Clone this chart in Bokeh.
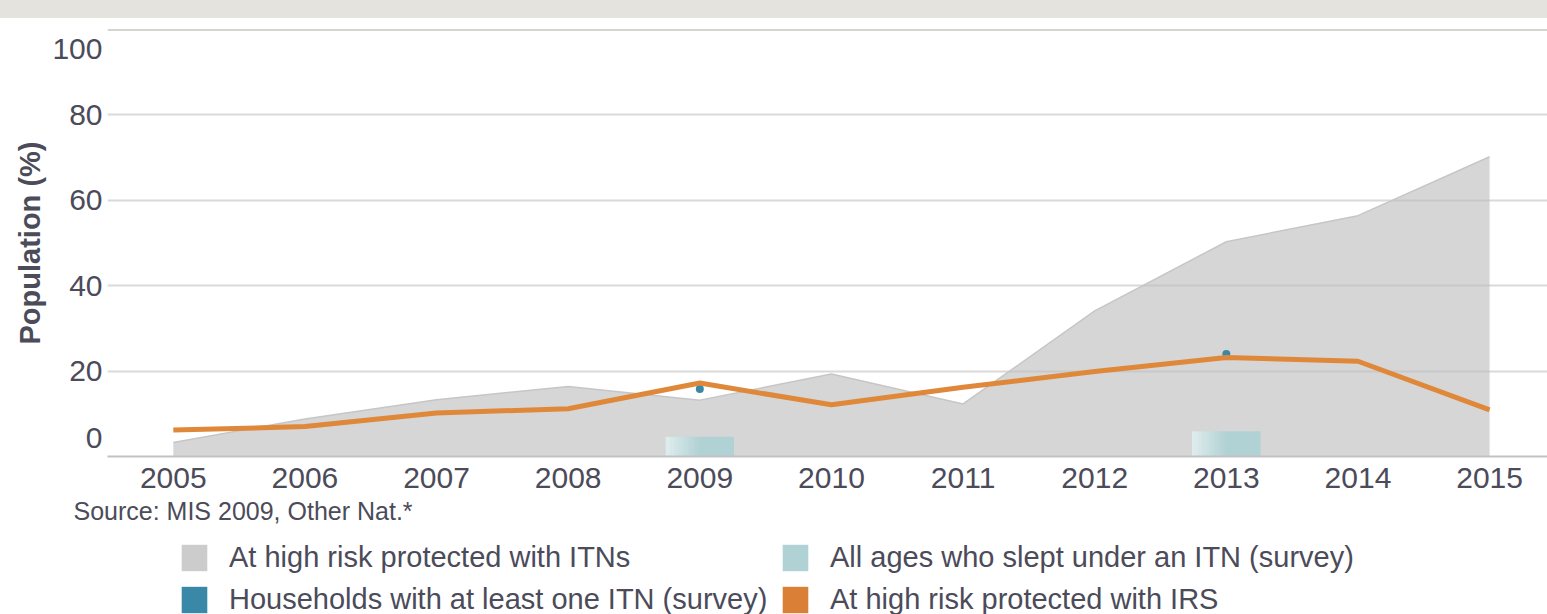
from bokeh.plotting import figure
from bokeh.models import (Range1d, FixedTicker, Span, Title, Legend,
                          LegendItem, Div)
from bokeh.layouts import column
from bokeh.embed import file_html
from bokeh.resources import INLINE

# ---- data ----
years = [2005, 2006, 2007, 2008, 2009, 2010, 2011, 2012, 2013, 2014, 2015]
itn_high_risk = [3.3, 8.8, 13.3, 16.4, 13.2, 19.3, 12.3, 34.1, 50.3, 56.4, 70.2]
irs_high_risk = [6.2, 7.0, 10.2, 11.2, 17.2, 12.1, 16.2, 19.9, 23.2, 22.3, 10.9]
survey_years = [2009, 2013]
households_one_itn = [15.8, 24.0]
all_ages_slept_itn = [4.6, 5.9]
y_ticks = [0, 20, 40, 60, 80, 100]
y_labels = ["0", "20", "40", "60", "80", "100"]
x_labels = [str(y) for y in years]
series_names = ["At high risk protected with ITNs",
                "Households with at least one ITN (survey)",
                "All ages who slept under an ITN (survey)",
                "At high risk protected with IRS"]
series_colors = ["#cccccc", "#3a88a8", "#b1d2d4", "#d98036"]

FONT = "Liberation Sans"
TXT = "#4b4b5a"

FRAME_H = 427  # px height of the plotting area (0..100)
px_per_unit = FRAME_H / (y_ticks[-1] - y_ticks[0])
# end labels are nudged inward (0 up, 100 down), like the original
label_pos = list(y_ticks)
label_pos[0] = y_ticks[0] + 19 / px_per_unit
label_pos[-1] = y_ticks[-1] - 19 / px_per_unit

band = Div(text="", width=1547, height=18,
           styles={"background-color": "#e4e3de"}, margin=0)

p = figure(width=1547, height=518, output_backend="svg", toolbar_location=None,
           x_range=Range1d(2004.5, 2015.44), y_range=Range1d(0, 100),
           min_border_left=107, min_border_right=0, min_border_top=11,
           min_border_bottom=80, background_fill_color="white",
           border_fill_color="white")
p.outline_line_color = None

# axes
p.xaxis.ticker = FixedTicker(ticks=years)
p.xaxis.major_label_overrides = {y: s for y, s in zip(years, x_labels)}
p.xaxis.major_label_text_font = FONT
p.xaxis.major_label_text_font_size = "30px"
p.xaxis.major_label_text_color = TXT
p.xaxis.major_label_standoff = 11
p.xaxis.major_tick_line_color = None
p.xaxis.major_tick_out = 0
p.xaxis.major_tick_in = 0
p.xaxis.minor_tick_line_color = None
p.xaxis.axis_line_color = "#c2c2c2"
p.xaxis.axis_line_width = 2

p.yaxis.ticker = FixedTicker(ticks=label_pos)
p.yaxis.major_label_overrides = {t: s for t, s in zip(label_pos, y_labels)}
p.yaxis.major_label_text_font = FONT
p.yaxis.major_label_text_font_size = "30px"
p.yaxis.major_label_text_color = TXT
p.yaxis.major_label_standoff = 5
p.yaxis.major_tick_line_color = None
p.yaxis.major_tick_out = 0
p.yaxis.major_tick_in = 0
p.yaxis.minor_tick_line_color = None
p.yaxis.axis_line_color = None
p.yaxis.axis_label = "Population (%)"
p.yaxis.axis_label_text_font = FONT
p.yaxis.axis_label_text_font_size = "29px"
p.yaxis.axis_label_text_font_style = "bold"
p.yaxis.axis_label_text_color = TXT
p.yaxis.axis_label_standoff = 3

p.xgrid.grid_line_color = None
p.ygrid.ticker = FixedTicker(ticks=y_ticks[1:-1])
p.ygrid.grid_line_color = "#d9d9d9"
p.ygrid.grid_line_width = 2

p.add_layout(Span(location=y_ticks[-1], dimension="width", line_color="#abaaa4",
                  line_width=2))

# area: at high risk protected with ITNs
p.varea(x=years, y1=[0] * len(years), y2=itn_high_risk,
        fill_color="#bdbdbd", fill_alpha=0.62)
p.line(x=years, y=itn_high_risk, line_color="#c6c6c6", line_width=1.5)

# bars: all ages who slept under ITN (survey), with gradient
bar_w = 0.52
p.vbar(x=survey_years, top=all_ages_slept_itn, width=bar_w,
       fill_color=series_colors[2], line_color=None)
n = 14
for i in range(n):
    frac = (i + 0.5) / n
    xs = [yr - bar_w / 2 + bar_w * 0.5 * frac for yr in survey_years]
    p.vbar(x=xs, top=all_ages_slept_itn, width=bar_w * 0.5 / n + 0.001,
           fill_color="white", fill_alpha=0.6 * (1 - frac), line_color=None)

# households dots
p.scatter(x=survey_years, y=households_one_itn, size=8,
          fill_color="#3a88a8", line_color=None)

# IRS line
p.line(x=years, y=irs_high_risk, line_color="#e0883a", line_width=5)

p.add_layout(Title(text="Source: MIS 2009, Other Nat.*", align="left",
                   offset=-34, text_font=FONT, text_font_size="25px",
                   text_font_style="normal", text_color=TXT, standoff=8),
             "below")

# ---- legend panel ----
lg = figure(width=1547, height=78, output_backend="svg", toolbar_location=None,
            x_axis_location=None, y_axis_location=None,
            min_border_left=0, min_border_right=0, min_border_top=0,
            min_border_bottom=0, x_range=Range1d(0, 1), y_range=Range1d(0, 1))
lg.outline_line_color = None
lg.xgrid.grid_line_color = None
lg.ygrid.grid_line_color = None
items = []
for name, col in zip(series_names, series_colors):
    # zero-height proxy bar: only its legend swatch is visible
    r = lg.vbar(x=[0.5], top=[0], bottom=[0], width=0.01,
                fill_color=col, line_color=None)
    items.append(LegendItem(label=name, renderers=[r]))
legend = Legend(items=items, ncols=2, orientation="vertical", location=(71, -2))
legend.margin = 0
legend.padding = 0
legend.spacing = 9
legend.glyph_width = 32
legend.glyph_height = 33
legend.label_standoff = 19
legend.label_width = 541
legend.label_text_font = FONT
legend.label_text_font_size = "29px"
legend.label_text_color = TXT
legend.border_line_color = None
legend.background_fill_alpha = 0
lg.add_layout(legend, "center")

layout = column(band, p, lg, spacing=0)
open("out.html", "w").write(file_html(layout, INLINE))
